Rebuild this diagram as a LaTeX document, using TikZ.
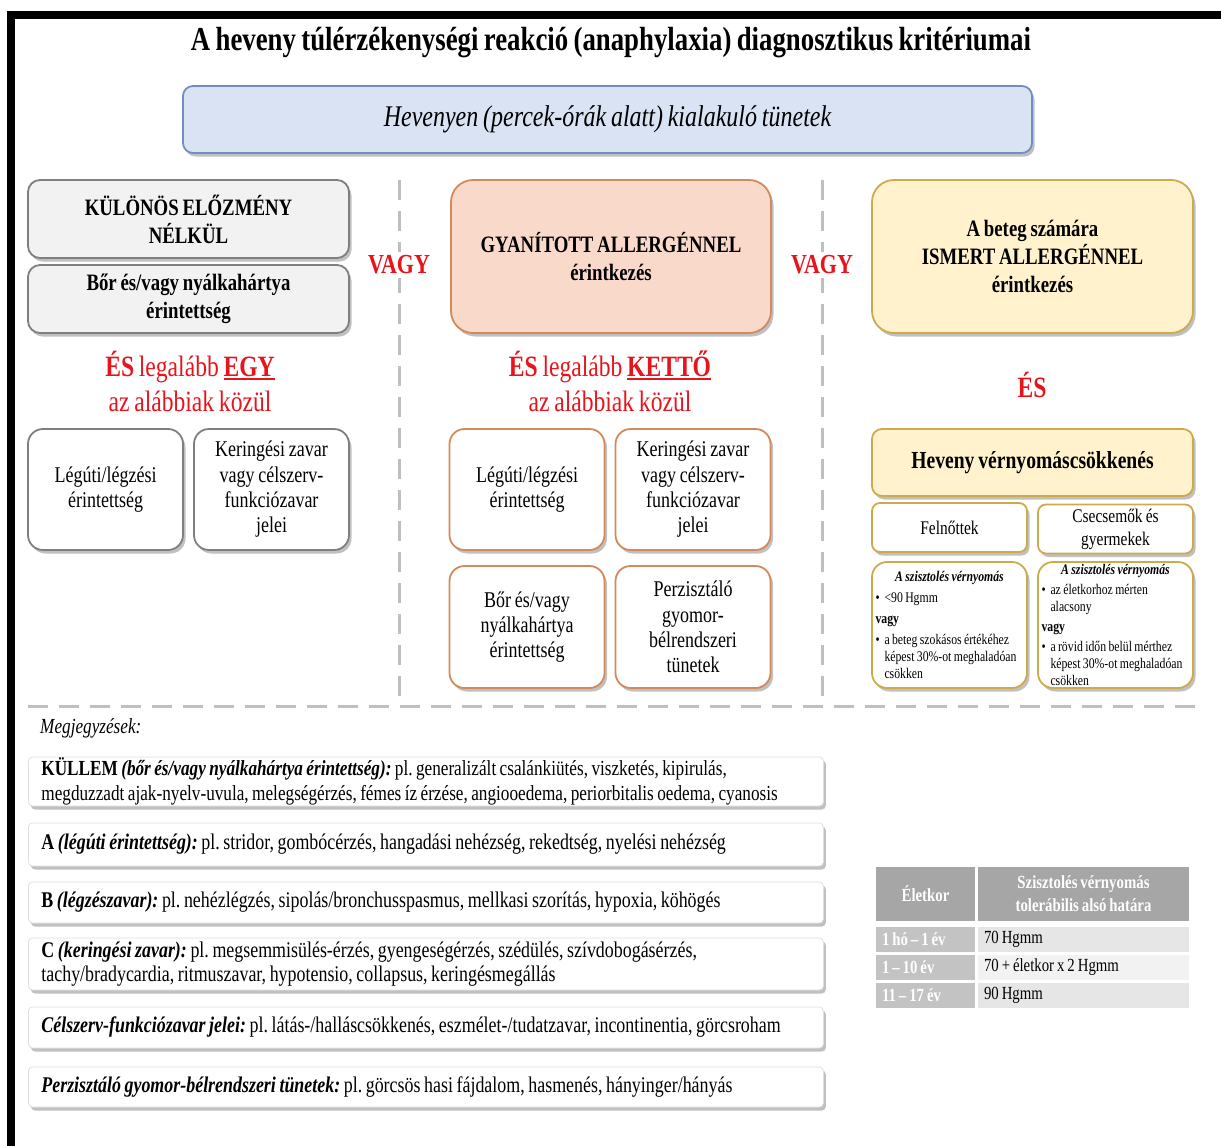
\documentclass[tikz,border=0pt]{standalone}
\usepackage{fontspec}
\setmainfont{Liberation Serif}[FakeStretch=0.8, WordSpace=0.8]
\usetikzlibrary{positioning, shadows}

\definecolor{kekfill}{HTML}{DAE3F3}
\definecolor{kekline}{HTML}{6F8FC4}
\definecolor{szurkefill}{HTML}{F2F2F2}
\definecolor{szurkeline}{HTML}{7F7F7F}
\definecolor{barackfill}{HTML}{F9DACA}
\definecolor{barackline}{HTML}{D4895C}
\definecolor{sargafill}{HTML}{FFF2CC}
\definecolor{sargaline}{HTML}{CDAA4C}
\definecolor{piros}{HTML}{E8141C}
\definecolor{szaggatott}{HTML}{BFBFBF}
\definecolor{tablafej}{HTML}{A6A6A6}
\definecolor{tablabal}{HTML}{C3C3C3}
\definecolor{tablasor}{HTML}{E6E6E6}
\definecolor{tablasorb}{HTML}{F2F2F2}

\newcommand{\pont}[1]{\par\hangindent9pt\hangafter1\noindent\makebox[9pt][l]{•}#1\par}
\newcommand{\vastagal}[1]{\setbox0\hbox{#1}\rlap{\rule[-4pt]{\wd0}{2.5pt}}\box0}

\begin{document}
\frenchspacing
\begin{tikzpicture}[x=1pt, y=-1pt,
  every node/.style={inner sep=0pt, align=center},
  arnyek/.style={drop shadow={shadow xshift=2.5pt, shadow yshift=-3.5pt, opacity=.45, fill=black!55}},
  doboz/.style={draw, line width=1.8pt, rounded corners=12pt, arnyek},
  szurke/.style={doboz, fill=szurkefill, draw=szurkeline, minimum width=321pt, font=\fontsize{23.5}{28}\selectfont\bfseries},
  nagy/.style={doboz, rounded corners=22pt, minimum width=321pt, minimum height=153pt, font=\fontsize{23.5}{28}\selectfont\bfseries},
  kisdoboz/.style={doboz, fill=white, rounded corners=15pt, minimum width=155pt, minimum height=121pt, font=\fontsize{22.5}{25.3}\selectfont},
  pirosszoveg/.style={text=piros, font=\fontsize{29.5}{35}\selectfont},
  vagy/.style={fill=white, text=piros, inner sep=4pt, font=\fontsize{27.5}{30}\selectfont\bfseries},
  valaszto/.style={draw=szaggatott, line width=3pt, dash pattern=on 20pt off 11pt},
  apro/.style={doboz, fill=white, draw=sargaline, rounded corners=15pt, minimum width=155pt, minimum height=126pt, text width=148pt, align=flush left, font=\fontsize{14.7}{17}\selectfont},
  megjegyzes/.style={draw=gray!25, line width=.8pt, fill=white, rounded corners=4pt, arnyek, anchor=west, inner xsep=13pt, text width=769pt, align=flush left, font=\fontsize{22.4}{24.5}\selectfont},
  cella/.style={minimum height=25pt, font=\fontsize{18.5}{23}\selectfont}
]
\useasboundingbox (0,0) rectangle (1221,1146);

% keret
\fill[black] (7,11) rectangle (1221,19);
\fill[black] (7,11) rectangle (15,1146);

% cim es fejlec
\node[font=\fontsize{33.5}{38}\selectfont\bfseries] (cim) at (611,43) {A heveny túlérzékenységi reakció (anaphylaxia) diagnosztikus kritériumai};
\node[doboz, fill=kekfill, draw=kekline, rounded corners=10pt, minimum width=849pt, minimum height=67pt, font=\fontsize{30}{34}\selectfont\itshape] (tunetek) at (607.5,119.5) {Hevenyen (percek-órák alatt) kialakuló tünetek};

% elvalaszto vonalak
\draw[valaszto] (399,180) -- (399,696);
\draw[valaszto] (822,180) -- (822,696);
\draw[valaszto] (28,706) -- (1197,706);
\node[vagy] (vagy1) at (399,265) {VAGY};
\node[vagy] (vagy2) at (822,265) {VAGY};

% bal oszlop
\node[szurke, minimum height=78pt] (kulonos) at (188.5,219) {KÜLÖNÖS ELŐZMÉNY\\NÉLKÜL};
\node[szurke, minimum height=68pt] (bor) at (188.5,299) {Bőr és/vagy nyálkahártya\\érintettség};
\node[pirosszoveg] (egy) at (190,381) {\textbf{ÉS} legalább \textbf{\vastagal{EGY}}\\az alábbiak közül};
\node[kisdoboz, draw=szurkeline] (legut1) at (105.5,489.5) {Légúti/légzési\\érintettség};
\node[kisdoboz, draw=szurkeline] (kering1) at (271.5,489.5) {Keringési zavar\\vagy célszerv-\\funkciózavar\\jelei};

% kozepso oszlop
\node[nagy, fill=barackfill, draw=barackline, minimum width=320pt] (gyanitott) at (611,256.5) {GYANÍTOTT ALLERGÉNNEL\\érintkezés};
\node[pirosszoveg] (ketto) at (610,381) {\textbf{ÉS} legalább \textbf{\vastagal{KETTŐ}}\\az alábbiak közül};
\node[kisdoboz, draw=barackline] (legut2) at (527,489.5) {Légúti/légzési\\érintettség};
\node[kisdoboz, draw=barackline] (kering2) at (693,489.5) {Keringési zavar\\vagy célszerv-\\funkciózavar\\jelei};
\node[kisdoboz, draw=barackline, minimum height=122pt] (bor2) at (527,627) {Bőr és/vagy\\nyálkahártya\\érintettség};
\node[kisdoboz, draw=barackline, minimum height=122pt] (gyomor2) at (693,627) {Perzisztáló\\gyomor-\\bélrendszeri\\tünetek};

% jobb oszlop
\node[nagy, fill=sargafill, draw=sargaline] (ismert) at (1032.5,256.5) {A beteg számára\\ISMERT ALLERGÉNNEL\\érintkezés};
\node[pirosszoveg, font=\fontsize{29.5}{35}\selectfont\bfseries] (es) at (1032,385) {ÉS};
\node[doboz, fill=sargafill, draw=sargaline, rounded corners=10pt, minimum width=321pt, minimum height=67pt, font=\fontsize{24.5}{28}\selectfont\bfseries] (vernyomas) at (1032.5,462.5) {Heveny vérnyomáscsökkenés};
\node[doboz, fill=white, draw=sargaline, rounded corners=8pt, minimum width=155pt, minimum height=49pt, font=\fontsize{19.3}{23}\selectfont] (felnott) at (949.5,527.5) {Felnőttek};
\node[doboz, fill=white, draw=sargaline, rounded corners=8pt, minimum width=155pt, minimum height=49pt, font=\fontsize{19.3}{23}\selectfont] (gyermek) at (1115.5,529) {Csecsemők és\\gyermekek};
\node[apro] (felnottszoveg) at (949.5,625) {\setlength{\parskip}{4pt}\centerline{\textbf{\textit{A szisztolés vérnyomás}}}\pont{<90 Hgmm}\noindent\textbf{vagy}\pont{a beteg szokásos értékéhez\newline képest 30\%-ot meghaladóan\newline csökken}};
\node[apro] (gyermekszoveg) at (1115.5,625) {\setlength{\parskip}{3pt}\centerline{\textbf{\textit{A szisztolés vérnyomás}}}\pont{az életkorhoz mérten\newline alacsony}\noindent\textbf{vagy}\pont{a rövid időn belül mérthez\newline képest 30\%-ot meghaladóan\newline csökken}};

% megjegyzesek
\node[anchor=west, font=\fontsize{21.5}{24}\selectfont\itshape] (megj) at (40,728) {Megjegyzések:};
\node[megjegyzes, minimum height=49pt, font=\fontsize{21.5}{24.5}\selectfont] (kullem) at (28,781.5) {\textbf{KÜLLEM} \textbf{\textit{(bőr és/vagy nyálkahártya érintettség):}} pl. generalizált csalánkiütés, viszketés, kipirulás,\\megduzzadt ajak-nyelv-uvula, melegségérzés, fémes íz érzése, angiooedema, periorbitalis oedema, cyanosis};
\node[megjegyzes, minimum height=43pt] (jegyA) at (28,844.5) {\textbf{A} \textbf{\textit{(légúti érintettség):}} pl. stridor, gombócérzés, hangadási nehézség, rekedtség, nyelési nehézség};
\node[megjegyzes, minimum height=41pt] (jegyB) at (28,902.5) {\textbf{B} \textbf{\textit{(légzészavar):}} pl. nehézlégzés, sipolás/bronchusspasmus, mellkasi szorítás, hypoxia, köhögés};
\node[megjegyzes, minimum height=52pt] (jegyC) at (28,964) {\textbf{C} \textbf{\textit{(keringési zavar):}} pl. megsemmisülés-érzés, gyengeségérzés, szédülés, szívdobogásérzés,\\tachy/bradycardia, ritmuszavar, hypotensio, collapsus, keringésmegállás};
\node[megjegyzes, minimum height=41pt] (celszerv) at (28,1027.5) {\textbf{\textit{Célszerv-funkciózavar jelei:}} pl. látás-/halláscsökkenés, eszmélet-/tudatzavar, incontinentia, görcsroham};
\node[megjegyzes, minimum height=40pt] (gyomor) at (28,1087) {\textbf{\textit{Perzisztáló gyomor-bélrendszeri tünetek:}} pl. görcsös hasi fájdalom, hasmenés, hányinger/hányás};

% tablazat
\node[cella, fill=tablafej, text=white, minimum width=99pt, minimum height=54pt, font=\fontsize{18.5}{23}\selectfont\bfseries] (fej1) at (925.5,894) {Életkor};
\node[cella, fill=tablafej, text=white, minimum width=211pt, minimum height=54pt, font=\fontsize{18.5}{23}\selectfont\bfseries] (fej2) at (1083.5,894) {Szisztolés vérnyomás\\tolerábilis alsó határa};
\node[cella, fill=tablabal, text=white, minimum width=99pt, text width=87pt, inner xsep=6pt, align=flush left, font=\fontsize{18.5}{23}\selectfont\bfseries] (kor1) at (925.5,939.5) {1 hó – 1 év};
\node[cella, fill=tablabal, text=white, minimum width=99pt, text width=87pt, inner xsep=6pt, align=flush left, font=\fontsize{18.5}{23}\selectfont\bfseries] (kor2) at (925.5,967.5) {1 – 10 év};
\node[cella, fill=tablabal, text=white, minimum width=99pt, text width=87pt, inner xsep=6pt, align=flush left, font=\fontsize{18.5}{23}\selectfont\bfseries] (kor3) at (925.5,995.5) {11 – 17 év};
\node[cella, fill=tablasor, text width=199pt, inner xsep=6pt, align=flush left] (ertek1) at (1083.5,939.5) {70 Hgmm};
\node[cella, fill=tablasorb, text width=199pt, inner xsep=6pt, align=flush left] (ertek2) at (1083.5,967.5) {70 + életkor x 2 Hgmm};
\node[cella, fill=tablasor, text width=199pt, inner xsep=6pt, align=flush left] (ertek3) at (1083.5,995.5) {90 Hgmm};
\end{tikzpicture}
\end{document}
